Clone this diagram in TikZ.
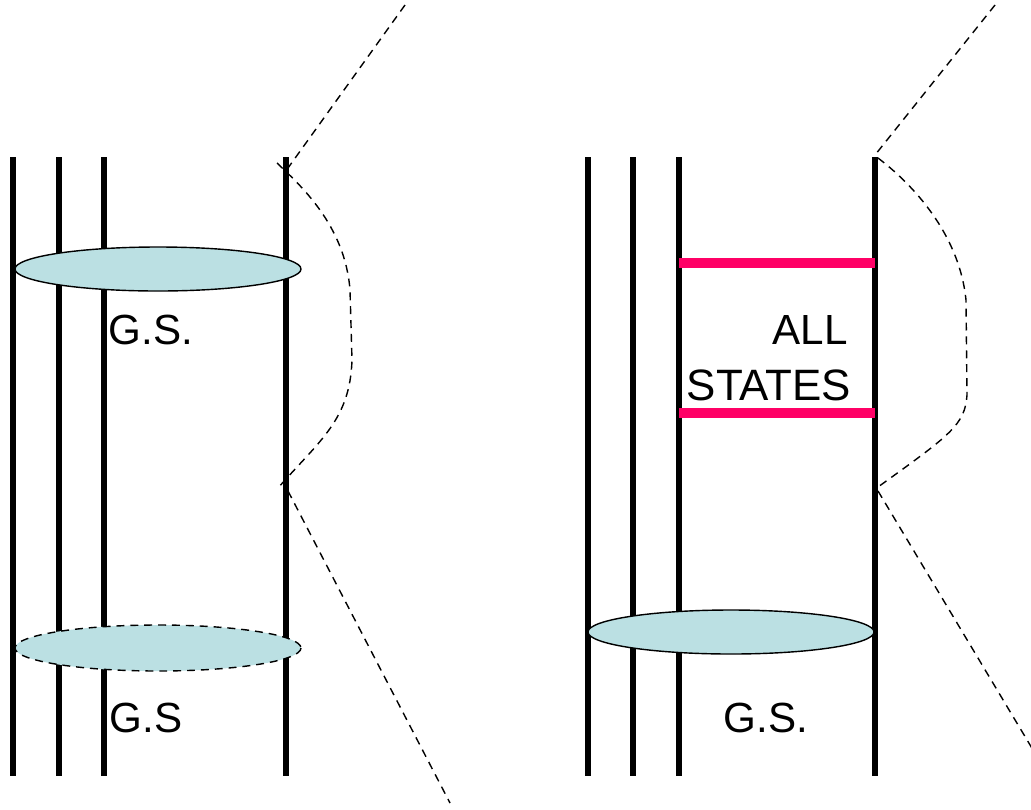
\documentclass[tikz,border=0pt]{standalone}
\usepackage{fontspec}
\setmainfont{Liberation Sans}
\usetikzlibrary{positioning}

\definecolor{gscyan}{HTML}{BBE0E3}
\definecolor{levelpink}{HTML}{FF0066}

\begin{document}
\begin{tikzpicture}[x=0.02cm,y=-0.02cm]
	\tikzstyle{wire}=[line width=2.9pt,black]
	\tikzstyle{gsdisc}=[fill=gscyan,draw=black,line width=0.8pt]
	\tikzstyle{level}=[line width=5.6pt,levelpink]
	\tikzstyle{cut}=[line width=0.8pt,dash pattern=on 4.5pt off 3.4pt]
	\tikzstyle{lbl}=[inner sep=0pt,font=\fontsize{24}{29}\selectfont]
	\useasboundingbox (0,0) rectangle (1031,809);
	\clip (0,0) rectangle (1031,809);
	% left diagram
	\foreach \x in {13,59,104,286}
		\draw[wire] (\x,157) -- (\x,776);
	\draw[gsdisc] (158,269) ellipse (143 and 22);
	\draw[gsdisc,dash pattern=on 4.5pt off 3.4pt] (158,648) ellipse (143 and 23);
	\node[lbl] (gs1) at (151,330) {G.S.};
	\node[lbl] (gs2) at (146,718) {G.S};
	\coordinate (lt) at (405,5);
	\coordinate (lb) at (450,803);
	\draw[cut] (lt) -- (288,168);
	\draw[cut] (277,163) .. controls (300,185) and (345,225) .. (350,290)
		-- (352,360) .. controls (350,420) and (320,440) .. (278,488);
	\draw[cut] (288,491) -- (lb);
	% right diagram
	\foreach \x in {588,633,679,875}
		\draw[wire] (\x,157) -- (\x,776);
	\draw[gsdisc] (731,632) ellipse (143 and 22);
	\draw[level] (679,263) -- (875,263);
	\draw[level] (679,413) -- (875,413);
	\node[lbl] (all) at (810,330) {ALL};
	\node[lbl,font=\fontsize{25}{30}\selectfont] (states) at (769,385) {STATES};
	\node[lbl] (gs3) at (766,718) {G.S.};
	\coordinate (rt) at (995,5);
	\coordinate (rb) at (1060,795);
	\draw[cut] (rt) -- (875,155);
	\draw[cut] (878,158) .. controls (920,190) and (960,240) .. (966,300)
		-- (967,395) .. controls (965,425) and (950,435) .. (878,487);
	\draw[cut] (878,491) -- (rb);
\end{tikzpicture}
\end{document}
